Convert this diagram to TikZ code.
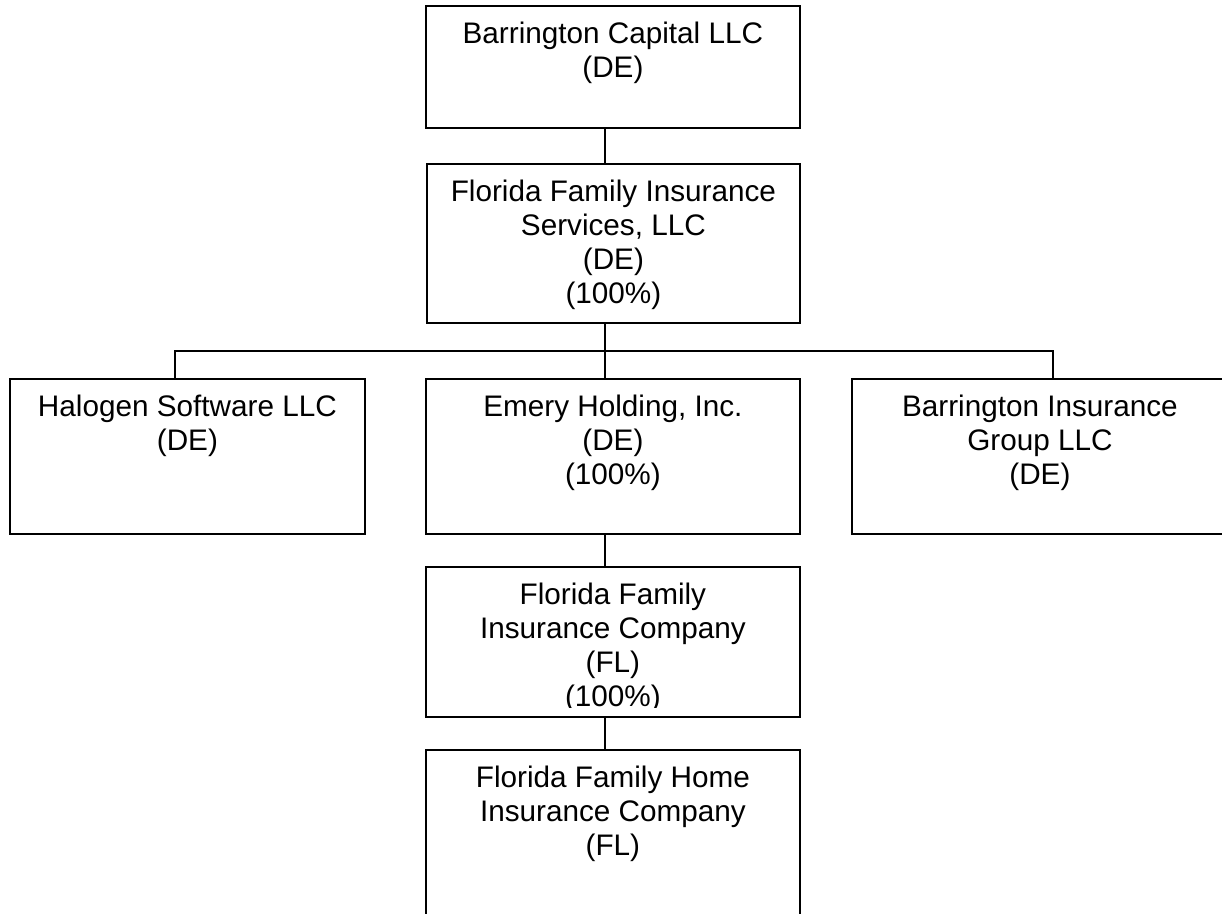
\documentclass[tikz,border=0pt]{standalone}
\usepackage{fontspec}
\setmainfont{Liberation Sans}
\usetikzlibrary{positioning}
\tikzset{
  orgbox/.style={draw, line width=1.8pt, anchor=north west, inner sep=0pt},
  orgtext/.style={align=center, inner sep=0pt, font=\fontsize{29.7}{34}\selectfont},
  link/.style={line width=1.8pt}
}
\begin{document}
\begin{tikzpicture}[x=1pt,y=-1pt]
\useasboundingbox[fill=white] (0,0) rectangle (1222,913);

\node[orgbox, minimum width=374pt, minimum height=122pt] (cap) at (425,5) {};
\node[orgbox, minimum width=373pt, minimum height=159pt] (ffis) at (426,163) {};
\node[orgbox, minimum width=355pt, minimum height=155pt] (halogen) at (9,378) {};
\node[orgbox, minimum width=374pt, minimum height=155pt] (emery) at (425,378) {};
\node[orgbox, minimum width=376pt, minimum height=155pt] (big) at (851,378) {};
\node[orgbox, minimum width=374pt, minimum height=150pt] (ffic) at (425,566) {};
\node[orgbox, minimum width=374pt, minimum height=200pt] (ffhic) at (425,749) {};

\node[orgtext, below=14pt of cap.north] (captxt) {\strut Barrington Capital LLC\\(DE)};
\node[orgtext, below=14pt of ffis.north] (ffistxt) {\strut Florida Family Insurance\\Services, LLC\\(DE)\\(100\%)};
\node[orgtext, below=14pt of halogen.north] (halogentxt) {\strut Halogen Software LLC\\(DE)};
\node[orgtext, below=14pt of emery.north] (emerytxt) {\strut Emery Holding, Inc.\\(DE)\\(100\%)};
\node[orgtext, below=14pt of big.north] (bigtxt) {\strut Barrington Insurance\\Group LLC\\(DE)};
\begin{scope}
\clip (ffic.north west) rectangle ([yshift=10pt]ffic.south east);
\node[orgtext, below=14pt of ffic.north] (ffictxt) {\strut Florida Family\\Insurance Company\\(FL)\\(100\%)};
\end{scope}
\node[orgtext, below=14pt of ffhic.north] (ffhictxt) {\strut Florida Family Home\\Insurance Company\\(FL)};

\coordinate (trunk) at (605,351);
\coordinate (dropL) at (175,351);
\coordinate (dropR) at (1053,351);

\draw[link] (cap.south -| trunk) -- (ffis.north -| trunk);
\draw[link] (ffis.south -| trunk) -- (emery.north -| trunk);
\draw[link] (halogen.north -| dropL) -- (dropL) -- (dropR) -- (big.north -| dropR);
\draw[link] (emery.south -| trunk) -- (ffic.north -| trunk);
\draw[link] (ffic.south -| trunk) -- (ffhic.north -| trunk);
\end{tikzpicture}
\end{document}
